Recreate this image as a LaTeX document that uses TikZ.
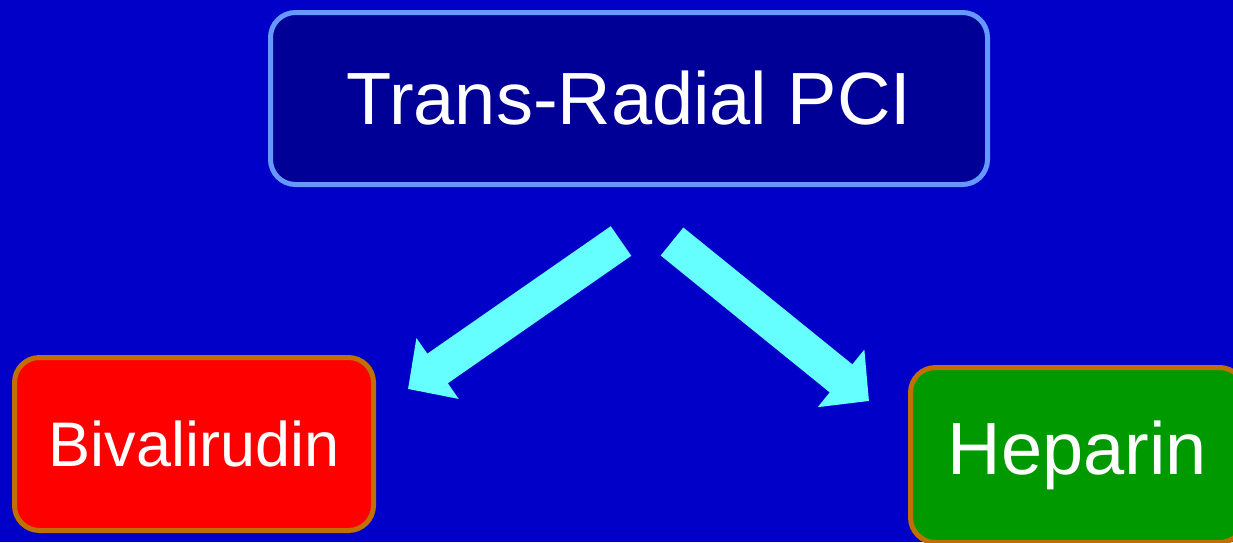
\documentclass[tikz,border=0pt]{standalone}
\usepackage{fontspec}
\setmainfont{Liberation Sans}
\usetikzlibrary{arrows.meta}
\definecolor{bg}{RGB}{0,0,200}
\definecolor{topfill}{RGB}{0,0,150}
\definecolor{topedge}{RGB}{102,153,255}
\definecolor{orangeedge}{RGB}{192,112,0}
\definecolor{redfill}{RGB}{255,0,0}
\definecolor{greenfill}{RGB}{0,153,0}
\definecolor{arrowc}{RGB}{102,255,255}
\begin{document}
\begin{tikzpicture}[x=1pt,y=-1pt,
  box/.style={draw, rounded corners=25pt, line width=5pt, inner sep=0pt, text=white, align=center},
  bigarrow/.style={draw=arrowc, line width=36pt, line cap=butt, -{Triangle[length=36pt,width=72pt]}}]
\useasboundingbox (0,0) rectangle (1233,542);
\clip (0,0) rectangle (1233,542);
\fill[bg] (0,0) rectangle (1233,542);
\node[box, fill=topfill, draw=topedge, minimum width=717pt, minimum height=172pt, font=\fontsize{74}{80}\selectfont] (top) at (629,98.5) {Trans-Radial PCI};
\node[box, fill=redfill, draw=orangeedge, minimum width=359pt, minimum height=173pt, font=\fontsize{63}{70}\selectfont] (biv) at (194,444) {Bivalirudin};
\node[box, fill=greenfill, draw=orangeedge, minimum width=334pt, minimum height=175pt, font=\fontsize{74}{80}\selectfont] (hep) at (1077.5,455) {Heparin};
\coordinate (ltail) at (621,241);
\coordinate (ltip) at (408,389);
\coordinate (rtail) at (672,241.5);
\coordinate (rtip) at (869,401);
\draw[bigarrow] (ltail) -- (ltip);
\draw[bigarrow] (rtail) -- (rtip);
\end{tikzpicture}
\end{document}
